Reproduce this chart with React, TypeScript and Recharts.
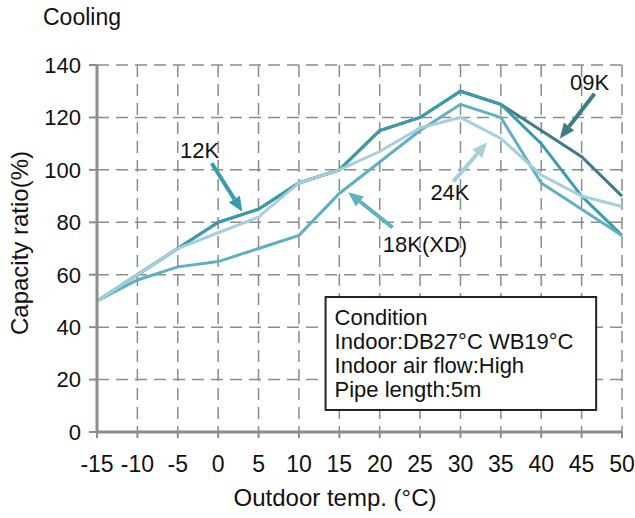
import React from 'react';
import {
  LineChart, Line, XAxis, YAxis, CartesianGrid,
  ReferenceLine, ReferenceDot, ReferenceArea
} from 'recharts';

// Outdoor temperature (°C) and capacity ratio (%) per model
const temps = [-15, -10, -5, 0, 5, 10, 15, 20, 25, 30, 35, 40, 45, 50];
const cap09K = [50, 60, 70, 80, 85, 95, 100, 115, 120, 130, 125, 115, 105, 90];
const cap12K = [50, 60, 70, 80, 85, 95, 100, 115, 120, 130, 125, 110, 90, 75];
const cap18K = [50, 58, 63, 65, 70, 75, 91, 103, 115, 125, 120, 95, 85, 75];
const cap24K = [50, 60, 70, 76, 82, 95, 100, 107, 116, 120, 112, 98, 90, 86];
const yTicks = [0, 20, 40, 60, 80, 100, 120, 140];
const conditionLines = [
  'Condition',
  'Indoor:DB27°C WB19°C',
  'Indoor air flow:High',
  'Pipe length:5m',
];

const rows = temps.map((t, i) => ({
  t,
  k09: cap09K[i],
  k12: cap12K[i],
  k18: cap18K[i],
  k24: cap24K[i],
}));

const FONT = '"Liberation Sans", Arial, sans-serif';
const GRID = '#8c8c8c';
const C09 = '#3f7c84';
const C12 = '#3a9bad';
const C18 = '#5fb1c2';
const C24 = '#a5cfda';

// callouts: label position and arrow (start -> tip) in data units
const callouts = [
  { text: '12K', color: C12, lx: -2.3, ly: 107.5, from: [-0.8, 102.5], to: [3, 84] },
  { text: '09K', color: C09, lx: 46, ly: 133.5, from: [46.6, 129], to: [42.3, 112] },
  { text: '24K', color: C24, lx: 28.7, ly: 91.5, from: [29.1, 95.5], to: [33.3, 110.5] },
  { text: '18K(XD)', color: C18, lx: 25.6, ly: 71.5, from: [21.6, 78], to: [16.1, 91.5] },
];

const makeArrow = (color: string) => (p: any) => {
  const { x1, y1, x2, y2 } = p;
  const ang = Math.atan2(y2 - y1, x2 - x1);
  const len = 15;
  const half = 6.5;
  const bx = x2 - len * Math.cos(ang);
  const by = y2 - len * Math.sin(ang);
  const px = -Math.sin(ang) * half;
  const py = Math.cos(ang) * half;
  return (
    <g>
      <line x1={x1} y1={y1} x2={bx} y2={by} stroke={color} strokeWidth={4} />
      <polygon
        points={`${x2},${y2} ${bx + px},${by + py} ${bx - px},${by - py}`}
        fill={color}
      />
    </g>
  );
};

const makeText = (text: string) => (p: any) => (
  <text
    x={p.cx}
    y={p.cy}
    textAnchor="middle"
    dominantBaseline="central"
    fontSize={22}
    fontFamily={FONT}
    fill="#111"
  >
    {text}
  </text>
);

const ConditionBox = (p: any) => {
  const { x, y, width, height } = p;
  return (
    <g>
      <rect x={x} y={y} width={width} height={height} fill="#fff" stroke="#222" strokeWidth={2} />
      {conditionLines.map((s, i) => (
        <text
          key={s}
          x={x + 9}
          y={y + 28 + i * 24}
          fontSize={22}
          fontFamily={FONT}
          fill="#111"
        >
          {s}
        </text>
      ))}
    </g>
  );
};

const YTitle = () => (
  <text
    x={28}
    y={243}
    transform="rotate(-90 28 243)"
    textAnchor="middle"
    fontSize={24}
    fontFamily={FONT}
    fill="#111"
  >
    Capacity ratio(%)
  </text>
);

const XTitle = () => (
  <text x={335} y={506} textAnchor="middle" fontSize={24} fontFamily={FONT} fill="#111">
    Outdoor temp. (°C)
  </text>
);

const App: React.FC = () => {
  return (
    <div style={{ position: 'absolute', left: 0, top: 0, width: 635, height: 518, background: '#fff' }}>
      <div
        style={{
          position: 'absolute', left: 43, top: 4, fontSize: 23,
          fontFamily: FONT, color: '#111', lineHeight: 'normal',
        }}
      >
        Cooling
      </div>
      <LineChart
        width={635}
        height={518}
        data={rows}
        margin={{ top: 65, right: 13, bottom: 0, left: 0 }}
        style={{ fontFamily: FONT }}
      >
        <CartesianGrid stroke={GRID} strokeWidth={1.5} strokeDasharray="12 7" />
        <XAxis
          dataKey="t"
          type="number"
          domain={[-15, 50]}
          ticks={temps}
          interval={0}
          height={86}
          stroke={GRID}
          axisLine={{ stroke: GRID, strokeWidth: 3 }}
          tickLine={{ stroke: GRID, strokeWidth: 2 }}
          tickSize={6}
          tickMargin={18}
          tick={{ fill: '#111', fontSize: 23 }}
          label={<XTitle />}
        />
        <XAxis
          xAxisId="top"
          orientation="top"
          dataKey="t"
          type="number"
          domain={[-15, 50]}
          height={0}
          tick={false}
          tickLine={false}
          axisLine={{ stroke: GRID, strokeWidth: 3 }}
        />
        <YAxis
          type="number"
          domain={[0, 140]}
          ticks={yTicks}
          interval={0}
          width={97}
          axisLine={{ stroke: GRID, strokeWidth: 3 }}
          tickLine={{ stroke: GRID, strokeWidth: 2 }}
          tickSize={8}
          tickMargin={8}
          tick={{ fill: '#111', fontSize: 22 }}
          label={<YTitle />}
        />
        <YAxis
          yAxisId="right"
          orientation="right"
          domain={[0, 140]}
          width={0}
          tick={false}
          tickLine={false}
          axisLine={{ stroke: GRID, strokeWidth: 3 }}
        />
        <ReferenceArea x1={13.3} x2={46.8} y1={8.4} y2={51.5} shape={<ConditionBox />} />
        <Line dataKey="k09" stroke={C09} strokeWidth={3} dot={false} isAnimationActive={false} />
        <Line dataKey="k12" stroke={C12} strokeWidth={3} dot={false} isAnimationActive={false} />
        <Line dataKey="k18" stroke={C18} strokeWidth={3} dot={false} isAnimationActive={false} />
        <Line dataKey="k24" stroke={C24} strokeWidth={3} dot={false} isAnimationActive={false} />
        {callouts.map(c => (
          <ReferenceLine
            key={c.text + '-arrow'}
            segment={[{ x: c.from[0], y: c.from[1] }, { x: c.to[0], y: c.to[1] }]}
            shape={makeArrow(c.color)}
          />
        ))}
        {callouts.map(c => (
          <ReferenceDot
            key={c.text + '-label'}
            x={c.lx}
            y={c.ly}
            r={1}
            shape={makeText(c.text)}
          />
        ))}
      </LineChart>
    </div>
  );
};

export default App;
